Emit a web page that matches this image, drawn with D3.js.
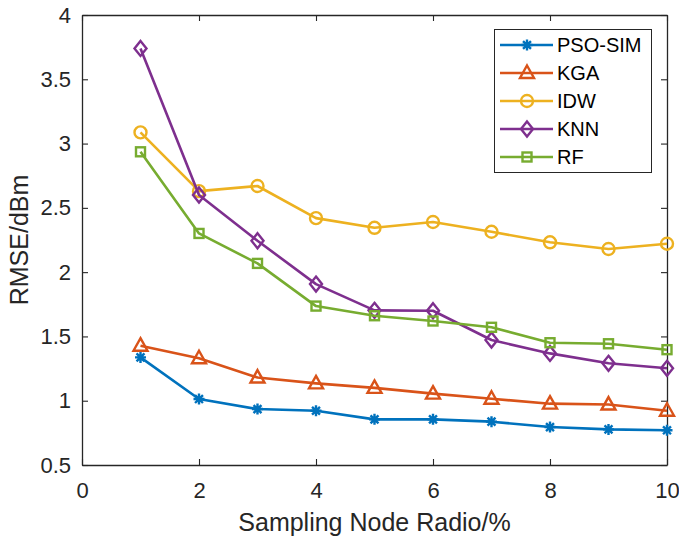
<!DOCTYPE html>
<html>
<head>
<meta charset="utf-8">
<script src="https://cdn.jsdelivr.net/npm/d3@7"></script>
<style>
  body { margin: 0; background: #fff; }
  text { font-family: "Liberation Sans", Arial, sans-serif; fill: #262626; }
</style>
</head>
<body>
<script>
// data
var ratio = [1, 2, 3, 4, 5, 6, 7, 8, 9, 10];
var psoSim = [1.337, 1.013, 0.935, 0.922, 0.855, 0.855, 0.837, 0.795, 0.777, 0.770];
var kga    = [1.428, 1.330, 1.180, 1.135, 1.100, 1.055, 1.015, 0.977, 0.970, 0.922];
var idw    = [3.087, 2.630, 2.670, 2.420, 2.345, 2.390, 2.314, 2.232, 2.180, 2.221];
var knn    = [3.740, 2.600, 2.244, 1.907, 1.703, 1.700, 1.472, 1.368, 1.291, 1.252];
var rf     = [2.936, 2.301, 2.068, 1.736, 1.661, 1.620, 1.571, 1.451, 1.443, 1.397];
var seriesNames = ["PSO-SIM", "KGA", "IDW", "KNN", "RF"];
var xTicks = [0, 2, 4, 6, 8, 10];
var yTicks = [0.5, 1, 1.5, 2, 2.5, 3, 3.5, 4];

var svgWidth = 679;
var svgHeight = 540;

var margin = { top: 15, right: 12, bottom: 75, left: 82 };
var chartWidth = svgWidth - margin.left - margin.right;
var chartHeight = svgHeight - margin.top - margin.bottom;

var colors = ["#0072BD", "#D95319", "#EDB120", "#7E2F8E", "#77AC30"];
var markers = ["star", "triangle", "circle", "diamond", "square"];
var allSeries = [psoSim, kga, idw, knn, rf];

var svg = d3.select("body").append("svg")
  .attr("width", svgWidth)
  .attr("height", svgHeight);

var chartGroup = svg.append("g")
  .attr("transform", `translate(${margin.left}, ${margin.top})`);

var xScale = d3.scaleLinear().domain([0, 10]).range([0, chartWidth]);
var yScale = d3.scaleLinear().domain([0.5, 4]).range([chartHeight, 0]);

var fmt = d => String(d);

// axes, ticks pointing inward on all four sides
var bottomAxis = d3.axisBottom(xScale).tickValues(xTicks).tickFormat(fmt).tickSizeInner(-6).tickSizeOuter(0).tickPadding(17);
var topAxis = d3.axisTop(xScale).tickValues(xTicks).tickFormat("").tickSizeInner(-6).tickSizeOuter(0);
var leftAxis = d3.axisLeft(yScale).tickValues(yTicks).tickFormat(fmt).tickSizeInner(-6).tickSizeOuter(0).tickPadding(11);
var rightAxis = d3.axisRight(yScale).tickValues(yTicks).tickFormat("").tickSizeInner(-6).tickSizeOuter(0);

function styleAxis(g) {
  g.select(".domain").attr("stroke", "#262626").attr("stroke-width", 1.3);
  g.selectAll(".tick line").attr("stroke", "#262626").attr("stroke-width", 1.1);
  g.selectAll(".tick text")
    .attr("fill", "#262626")
    .style("font-family", "'Liberation Sans', Arial, sans-serif")
    .style("font-size", "22px");
}

chartGroup.append("g").attr("transform", `translate(0, ${chartHeight})`).call(bottomAxis).call(styleAxis);
chartGroup.append("g").call(topAxis).call(styleAxis);
chartGroup.append("g").call(leftAxis).call(styleAxis);
chartGroup.append("g").attr("transform", `translate(${chartWidth}, 0)`).call(rightAxis).call(styleAxis);

// marker drawing
function drawMarker(g, type, color) {
  if (type === "star") {
    var s = 5.5, d = s * 0.72;
    g.append("path")
      .attr("d", `M${-s},0L${s},0M0,${-s}L0,${s}M${-d},${-d}L${d},${d}M${-d},${d}L${d},${-d}`)
      .attr("stroke", color).attr("stroke-width", 2.4).attr("fill", "none");
  } else if (type === "triangle") {
    g.append("path").attr("d", "M0,-7.5L7,5L-7,5Z")
      .attr("stroke", color).attr("stroke-width", 2.4).attr("fill", "none");
  } else if (type === "circle") {
    g.append("circle").attr("r", 6)
      .attr("stroke", color).attr("stroke-width", 2.4).attr("fill", "none");
  } else if (type === "diamond") {
    g.append("path").attr("d", "M0,-7.5L6,0L0,7.5L-6,0Z")
      .attr("stroke", color).attr("stroke-width", 2.4).attr("fill", "none");
  } else if (type === "square") {
    g.append("rect").attr("x", -4.5).attr("y", -4.5).attr("width", 9).attr("height", 9)
      .attr("stroke", color).attr("stroke-width", 2.4).attr("fill", "none");
  }
}

var line = d3.line()
  .x((d, i) => xScale(ratio[i]))
  .y(d => yScale(d));

allSeries.forEach(function(values, k) {
  var g = chartGroup.append("g");
  g.append("path")
    .datum(values)
    .attr("d", line)
    .attr("fill", "none")
    .attr("stroke", colors[k])
    .attr("stroke-width", 2.6)
    .attr("stroke-linejoin", "round");
  values.forEach(function(v, i) {
    var m = g.append("g").attr("transform", `translate(${xScale(ratio[i])}, ${yScale(v)})`);
    drawMarker(m, markers[k], colors[k]);
  });
});

// axis titles
svg.append("text")
  .attr("x", margin.left + chartWidth / 2)
  .attr("y", 531)
  .attr("text-anchor", "middle")
  .style("font-size", "25px")
  .text("Sampling Node Radio/%");

svg.append("text")
  .attr("transform", "rotate(-90)")
  .attr("x", -(margin.top + chartHeight / 2))
  .attr("y", 28)
  .attr("text-anchor", "middle")
  .style("font-size", "25px")
  .text("RMSE/dBm");

// legend
var legend = svg.append("g");
legend.append("rect")
  .attr("x", 494.5).attr("y", 29.5)
  .attr("width", 157).attr("height", 143)
  .attr("fill", "#fff").attr("stroke", "#262626").attr("stroke-width", 1);

seriesNames.forEach(function(name, k) {
  var y = 45 + k * 28;
  legend.append("line")
    .attr("x1", 500).attr("x2", 553).attr("y1", y).attr("y2", y)
    .attr("stroke", colors[k]).attr("stroke-width", 2.6);
  var m = legend.append("g").attr("transform", `translate(527, ${y})`);
  drawMarker(m, markers[k], colors[k]);
  legend.append("text")
    .attr("x", 557).attr("y", y)
    .attr("dy", "0.36em")
    .style("font-size", "20px")
    .style("fill", "#000")
    .text(name);
});
</script>
</body>
</html>
